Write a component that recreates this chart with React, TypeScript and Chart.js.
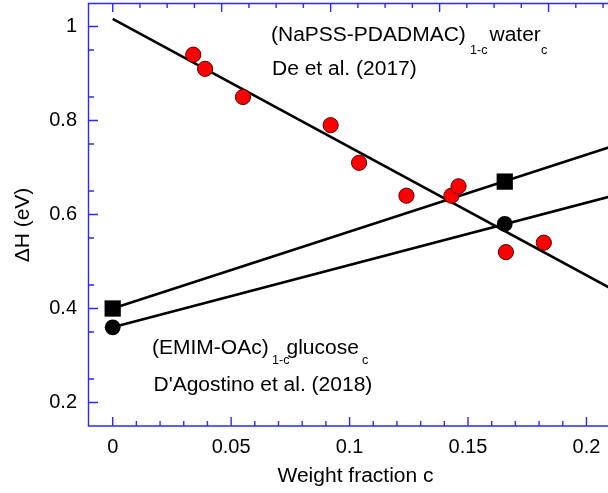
import React, { useEffect, useRef } from "react";
import { Chart, registerables } from "chart.js";

Chart.register(...registerables);

// ---- data ----
const deFraction = [0.034, 0.039, 0.055, 0.092, 0.104, 0.124, 0.143, 0.146, 0.166, 0.182];
const deEnthalpy = [0.94, 0.91, 0.85, 0.79, 0.71, 0.64, 0.64, 0.66, 0.52, 0.54];
const emimFraction = [0, 0.1655];
const emimSquare = [0.4, 0.67];
const emimCircle = [0.36, 0.58];
const fitFraction = [0, 0.22];
const fitDe = [1.016, 0.416];
const fitSquare = [0.4, 0.76];
const fitCircle = [0.36, 0.6515];

const xTicks = [0, 0.05, 0.1, 0.15, 0.2];
const xTickLabels = ["0", "0.05", "0.1", "0.15", "0.2"];
const yTicks = [0.2, 0.4, 0.6, 0.8, 1];
const yTickLabels = ["0.2", "0.4", "0.6", "0.8", "1"];
const xMinorTicks = [0.01, 0.02, 0.03, 0.04, 0.06, 0.07, 0.08, 0.09, 0.11, 0.12, 0.13, 0.14, 0.16, 0.17, 0.18, 0.19, 0.21];
const yMinorTicks = [0.25, 0.35, 0.45, 0.55, 0.65, 0.75, 0.85, 0.95];
const topMajorTicks = [0, 0.046, 0.092, 0.138, 0.184];
const topMinorTicks = [0.0115, 0.023, 0.0345, 0.0575, 0.069, 0.0805, 0.1035, 0.115, 0.1265, 0.1495, 0.161, 0.1725, 0.1955, 0.207];

const xTitle = "Weight fraction c";
const yTitle = "ΔH (eV)";

const AXIS = "#2a2aff";
const FONT = "'Liberation Sans', Arial, sans-serif";
const STRETCH = 1.05;

const pts = (xs: number[], ys: number[]) => xs.map((x, i) => ({ x, y: ys[i] }));

type Seg = { t: string; x: number; y: number; s: number };
const annotations: Seg[] = [
  { t: "(NaPSS-PDADMAC)", x: 271, y: 40.7, s: 20 },
  { t: "1-c", x: 470, y: 54, s: 12 },
  { t: "water", x: 489.5, y: 40.7, s: 20 },
  { t: "c", x: 541, y: 54, s: 12 },
  { t: "De et al. (2017)", x: 272, y: 75, s: 20 },
  { t: "(EMIM-OAc)", x: 152, y: 354, s: 20 },
  { t: "1-c", x: 272, y: 363.5, s: 12 },
  { t: "glucose", x: 286.5, y: 354, s: 20 },
  { t: "c", x: 362, y: 363.5, s: 12 },
  { t: "D'Agostino et al. (2018)", x: 153.5, y: 391, s: 20 },
];

const framePlugin = {
  id: "frame",
  afterDatasetsDraw(chart: any) {
    const { ctx, chartArea: a, scales } = chart;
    const x = scales.x;
    const y = scales.y;
    ctx.save();
    ctx.strokeStyle = AXIS;
    ctx.lineWidth = 1.4;
    ctx.beginPath();
    ctx.moveTo(a.right, a.top + 0.5);
    ctx.lineTo(a.left - 0.5, a.top + 0.5);
    ctx.lineTo(a.left - 0.5, a.bottom);
    ctx.lineTo(a.right, a.bottom);
    ctx.stroke();
    ctx.beginPath();
    const major = 9;
    const minor = 5;
    xTicks.forEach((v) => {
      const px = x.getPixelForValue(v);
      ctx.moveTo(px, a.bottom);
      ctx.lineTo(px, a.bottom - major);
    });
    xMinorTicks.forEach((v) => {
      const px = x.getPixelForValue(v);
      ctx.moveTo(px, a.bottom);
      ctx.lineTo(px, a.bottom - minor);
    });
    topMajorTicks.forEach((v) => {
      const px = x.getPixelForValue(v);
      ctx.moveTo(px, a.top);
      ctx.lineTo(px, a.top + major);
    });
    topMinorTicks.forEach((v) => {
      const px = x.getPixelForValue(v);
      ctx.moveTo(px, a.top);
      ctx.lineTo(px, a.top + minor);
    });
    yTicks.forEach((v) => {
      const py = y.getPixelForValue(v);
      ctx.moveTo(a.left, py);
      ctx.lineTo(a.left + major, py);
    });
    yMinorTicks.forEach((v) => {
      const py = y.getPixelForValue(v);
      ctx.moveTo(a.left, py);
      ctx.lineTo(a.left + minor, py);
    });
    ctx.stroke();

    // titles
    ctx.fillStyle = "#000";
    ctx.font = `20px ${FONT}`;
    ctx.textAlign = "center";
    ctx.textBaseline = "alphabetic";
    ctx.save();
    ctx.translate((a.left + a.right) / 2, 481.5);
    ctx.scale(STRETCH, 1);
    ctx.fillText(xTitle, 0, 0);
    ctx.restore();
    ctx.save();
    ctx.translate(28.7, 225);
    ctx.rotate(-Math.PI / 2);
    ctx.scale(STRETCH, 1);
    ctx.fillText(yTitle, 0, 0);
    ctx.restore();

    // annotations
    ctx.textAlign = "left";
    annotations.forEach((s) => {
      ctx.save();
      ctx.font = `${s.s}px ${FONT}`;
      ctx.translate(s.x, s.y);
      ctx.scale(STRETCH, 1);
      ctx.fillText(s.t, 0, 0);
      ctx.restore();
    });
    ctx.restore();
  },
};

export default function App() {
  const ref = useRef<HTMLCanvasElement | null>(null);
  useEffect(() => {
    if (!ref.current) return;
    const chart = new Chart(ref.current, {
      type: "scatter",
      data: {
        datasets: [
          {
            label: "De et al. (2017)",
            data: pts(deFraction, deEnthalpy),
            pointRadius: 7.6,
            pointBackgroundColor: "#ff0000",
            pointBorderColor: "#5a0000",
            pointBorderWidth: 1,
            showLine: false,
          },
          {
            label: "EMIM square",
            data: pts(emimFraction, emimSquare),
            pointStyle: "rect",
            pointRadius: 11.5,
            pointBackgroundColor: "#000",
            pointBorderColor: "#000",
            pointBorderWidth: 0,
            showLine: false,
          },
          {
            label: "EMIM circle",
            data: pts(emimFraction, emimCircle),
            pointRadius: 7.9,
            pointBackgroundColor: "#000",
            pointBorderColor: "#000",
            pointBorderWidth: 0,
            showLine: false,
          },
          {
            label: "fit De",
            data: pts(fitFraction, fitDe),
            showLine: true,
            borderColor: "#000",
            borderWidth: 2.6,
            pointRadius: 0,
          },
          {
            label: "fit square",
            data: pts(fitFraction, fitSquare),
            showLine: true,
            borderColor: "#000",
            borderWidth: 2.6,
            pointRadius: 0,
          },
          {
            label: "fit circle",
            data: pts(fitFraction, fitCircle),
            showLine: true,
            borderColor: "#000",
            borderWidth: 2.6,
            pointRadius: 0,
          },
        ],
      },
      options: {
        responsive: false,
        animation: false,
        devicePixelRatio: 1,
        layout: { autoPadding: false, padding: { top: 3, right: 0, left: 0, bottom: 0 } },
        plugins: { legend: { display: false }, tooltip: { enabled: false } },
        scales: {
          x: {
            type: "linear",
            min: -0.01,
            max: 0.215,
            grid: { display: false, drawTicks: false },
            border: { display: false },
            afterBuildTicks: (s: any) => {
              s.ticks = xTicks.map((v) => ({ value: v }));
            },
            afterFit: (s: any) => {
              s.height = 67;
              s.paddingLeft = 0;
              s.paddingRight = 0;
              s.paddingTop = 0;
              s.paddingBottom = 0;
            },
            ticks: {
              padding: 9,
              maxRotation: 0,
              autoSkip: false,
              color: "#000",
              font: { family: FONT, size: 20 },
              callback: (v: any) => {
                const i = xTicks.findIndex((t) => Math.abs(t - v) < 1e-9);
                return i >= 0 ? xTickLabels[i] : "";
              },
            },
          },
          y: {
            type: "linear",
            min: 0.15,
            max: 1.05,
            grid: { display: false, drawTicks: false },
            border: { display: false },
            afterBuildTicks: (s: any) => {
              s.ticks = yTicks.map((v) => ({ value: v }));
            },
            afterFit: (s: any) => {
              s.width = 89;
              s.paddingLeft = 0;
              s.paddingRight = 0;
              s.paddingTop = 0;
              s.paddingBottom = 0;
            },
            ticks: {
              padding: 12,
              autoSkip: false,
              color: "#000",
              font: { family: FONT, size: 20 },
              callback: (v: any) => {
                const i = yTicks.findIndex((t) => Math.abs(t - v) < 1e-9);
                return i >= 0 ? yTickLabels[i] : "";
              },
            },
          },
        },
      },
      plugins: [framePlugin],
    } as any);
    return () => chart.destroy();
  }, []);

  return (
    <div
      style={{
        position: "absolute",
        left: 0,
        top: 0,
        width: 608,
        height: 493,
        overflow: "hidden",
        background: "#fff",
      }}
    >
      <canvas ref={ref} width={622} height={493} style={{ width: 622, height: 493, display: "block" }} />
    </div>
  );
}
